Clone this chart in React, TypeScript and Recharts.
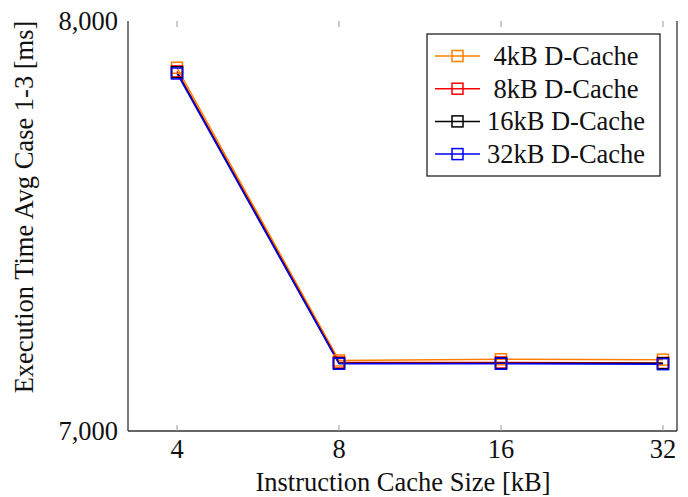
import React from 'react';
import { LineChart, Line, XAxis, YAxis } from 'recharts';

// values (ms)
const cacheSizes = ['4', '8', '16', '32'];
const dCache4 = [7886, 7172, 7175, 7174];
const dCache8 = [7877, 7167, 7167, 7166];
const dCache16 = [7875, 7165, 7165, 7165];
const dCache32 = [7872, 7164, 7164, 7163];
const seriesNames = ['4kB D-Cache', '8kB D-Cache', '16kB D-Cache', '32kB D-Cache'];
const seriesKeys = ['d4', 'd8', 'd16', 'd32'];
const seriesColors = ['#ff8000', '#ff0000', '#000000', '#0000ff'];
const yTicks = [7000, 8000];
const xTitle = 'Instruction Cache Size [kB]';
const yTitle = 'Execution Time Avg Case 1-3 [ms]';

const data = cacheSizes.map((size, i) => ({
    size,
    d4: dCache4[i],
    d8: dCache8[i],
    d16: dCache16[i],
    d32: dCache32[i],
}));

const FONT = '"Liberation Serif", "Times New Roman", serif';
const FS = 26.5;
const PLOT_TOP = 21;

const Square = ({ cx, cy, color }: any) => (
    <rect x={cx - 5.5} y={cy - 5.5} width={11} height={11} fill="none" stroke={color} strokeWidth={1.5} />
);

const XTick = ({ x, y, payload }: any) => (
    <g>
        <line x1={x} y1={y} x2={x} y2={y - 6} stroke="#999" />
        <line x1={x} y1={PLOT_TOP} x2={x} y2={PLOT_TOP + 6} stroke="#999" />
        <text x={x} y={y + 27} textAnchor="middle" fontFamily={FONT} fontSize={FS} fill="#111">
            {payload.value}
        </text>
    </g>
);

const YTick = ({ x, y, payload }: any) => (
    <g>
        <text x={x - 10} y={y + 9} textAnchor="end" fontFamily={FONT} fontSize={FS} fill="#111">
            {Number(payload.value).toLocaleString('en-US')}
        </text>
    </g>
);

const Overlay = () => (
    <svg width={688} height={497} style={{ position: 'absolute', left: 0, top: 0, pointerEvents: 'none' }}>
        <text x={403} y={491} textAnchor="middle" fontFamily={FONT} fontSize={FS} fill="#111">
            {xTitle}
        </text>
        <text transform="translate(32.5,207) rotate(-90)" textAnchor="middle" fontFamily={FONT} fontSize={FS} fill="#111">
            {yTitle}
        </text>
        <g transform="translate(426,33)">
            <rect x={1} y={1} width={233} height={142} fill="#fff" stroke="#222" strokeWidth={1.3} />
            {seriesNames.map((name, i) => {
                const cy = 23 + i * 32.7;
                return (
                    <g key={name}>
                        <line x1={9} y1={cy} x2={54} y2={cy} stroke={seriesColors[i]} strokeWidth={1.5} />
                        <Square cx={31.5} cy={cy} color={seriesColors[i]} />
                        <text x={140} y={cy + 9} textAnchor="middle" fontFamily={FONT} fontSize={FS} fill="#111">
                            {name}
                        </text>
                    </g>
                );
            })}
        </g>
    </svg>
);

export default function App() {
    return (
        <div style={{ position: 'absolute', left: 0, top: 0, width: 688, height: 497, background: '#fff' }}>
            <LineChart width={688} height={497} data={data} margin={{ top: PLOT_TOP, right: 0, bottom: 0, left: 0 }}>
                <XAxis
                    dataKey="size"
                    type="category"
                    height={66}
                    padding={{ left: 49, right: 14 }}
                    tickLine={false}
                    tickSize={0}
                    tickMargin={0}
                    axisLine={{ stroke: '#333', strokeWidth: 1.3 }}
                    tick={<XTick />}
                    interval={0}
                />
                <XAxis
                    xAxisId="top"
                    orientation="top"
                    dataKey="size"
                    height={0}
                    tick={false}
                    tickLine={false}
                    axisLine={{ stroke: '#333', strokeWidth: 1.3 }}
                />
                <YAxis
                    type="number"
                    domain={[7000, 8000]}
                    ticks={yTicks}
                    width={128}
                    tickLine={false}
                    tickSize={0}
                    tickMargin={0}
                    axisLine={{ stroke: '#333', strokeWidth: 1.3 }}
                    tick={<YTick />}
                />
                <YAxis
                    yAxisId="right"
                    orientation="right"
                    type="number"
                    domain={[7000, 8000]}
                    width={11}
                    tick={false}
                    tickLine={false}
                    axisLine={{ stroke: '#333', strokeWidth: 1.3 }}
                />
                {seriesKeys.map((key, i) => (
                    <Line
                        key={key}
                        dataKey={key}
                        name={seriesNames[i]}
                        stroke={seriesColors[i]}
                        strokeWidth={1.5}
                        isAnimationActive={false}
                        dot={(p: any) => <Square key={`${key}-${p.index}`} cx={p.cx} cy={p.cy} color={seriesColors[i]} />}
                    />
                ))}
            </LineChart>
            <Overlay />
        </div>
    );
}
